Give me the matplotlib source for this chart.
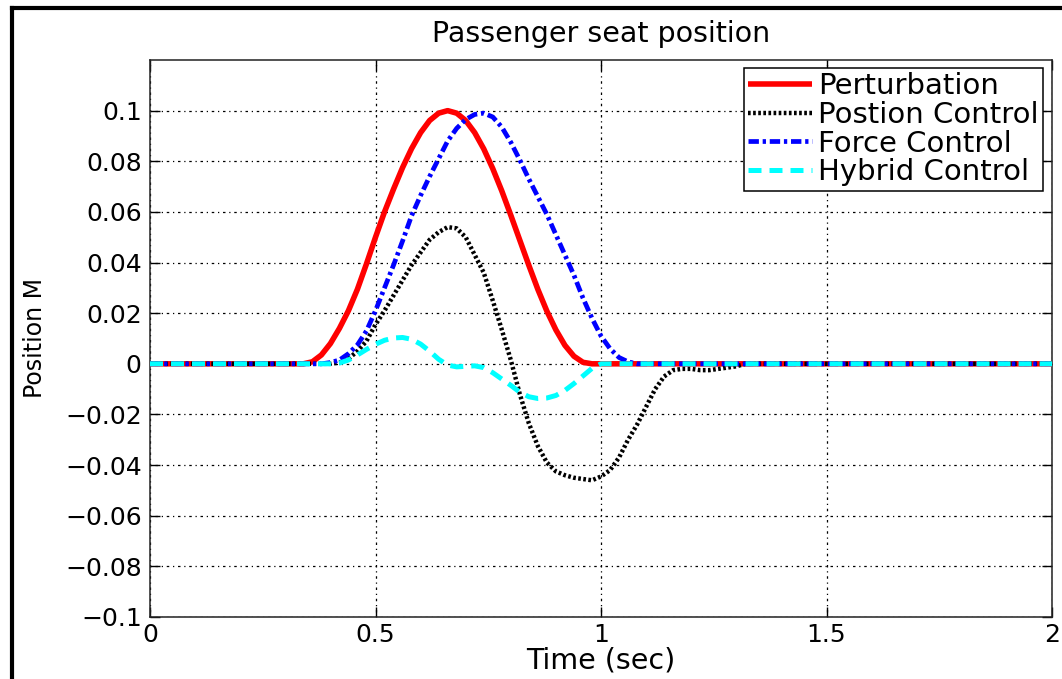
import numpy as np
import matplotlib
matplotlib.use("Agg")
import matplotlib.pyplot as plt
from matplotlib.lines import Line2D

plt.rcParams['font.family'] = ['DejaVu Sans']

# ---------------- data ----------------
time_s = [0.0, 0.30, 0.32, 0.34, 0.36, 0.38, 0.40, 0.42, 0.44, 0.46, 0.48,
          0.50, 0.52, 0.54, 0.56, 0.58, 0.60, 0.62, 0.64, 0.66, 0.68,
          0.70, 0.72, 0.74, 0.76, 0.78, 0.80, 0.82, 0.84, 0.86, 0.88,
          0.90, 0.92, 0.94, 0.96, 0.98, 1.00, 1.02, 1.04, 1.06, 1.08,
          1.10, 1.12, 1.14, 1.16, 1.18, 1.20, 1.22, 1.24, 1.26, 1.28,
          1.30, 1.32, 1.34, 1.36, 1.38, 1.40, 2.0]

perturbation = [0.0, 0.0, 0.0, 0.0, 0.0008, 0.0035, 0.0080, 0.0140, 0.0210, 0.0295, 0.0395,
                0.0500, 0.0600, 0.0690, 0.0775, 0.0850, 0.0913, 0.0961, 0.0990, 0.1000, 0.0990,
                0.0961, 0.0913, 0.0849, 0.0771, 0.0683, 0.0587, 0.0488, 0.0389, 0.0294, 0.0208,
                0.0134, 0.0073, 0.0030, 0.0006, 0.0, 0.0, 0.0, 0.0, 0.0, 0.0,
                0.0, 0.0, 0.0, 0.0, 0.0, 0.0, 0.0, 0.0, 0.0, 0.0,
                0.0, 0.0, 0.0, 0.0, 0.0, 0.0, 0.0]

position_control = [0.0, 0.0, 0.0, 0.0, 0.0, 0.0, 0.0, 0.0005, 0.002, 0.005, 0.009,
                    0.0155, 0.021, 0.027, 0.033, 0.039, 0.044, 0.049, 0.052, 0.054, 0.0535,
                    0.050, 0.043, 0.036, 0.025, 0.0135, 0.0015, -0.012, -0.0235, -0.0325, -0.039,
                    -0.0425, -0.044, -0.045, -0.0455, -0.046, -0.0445, -0.042, -0.037, -0.030, -0.024,
                    -0.017, -0.010, -0.005, -0.0025, -0.002, -0.002, -0.0025, -0.0025, -0.002, -0.0015,
                    -0.001, 0.0, 0.0, 0.0, 0.0, 0.0, 0.0]

force_control = [0.0, 0.0, 0.0, 0.0, 0.0, 0.0, 0.0005, 0.0015, 0.004, 0.0075, 0.013,
                 0.021, 0.030, 0.039, 0.0485, 0.0585, 0.0665, 0.074, 0.081, 0.088, 0.093,
                 0.0965, 0.0985, 0.099, 0.0975, 0.0935, 0.0875, 0.0805, 0.073, 0.066, 0.059,
                 0.051, 0.043, 0.035, 0.026, 0.018, 0.011, 0.006, 0.0025, 0.0008, 0.0,
                 0.0, 0.0, 0.0, 0.0, 0.0, 0.0, 0.0, 0.0, 0.0, 0.0,
                 0.0, 0.0, 0.0, 0.0, 0.0, 0.0, 0.0]

hybrid_control = [0.0, 0.0, 0.0, 0.0, 0.0, 0.0, 0.0, 0.0003, 0.0015, 0.0035, 0.0057,
                  0.0077, 0.0093, 0.0102, 0.0104, 0.0097, 0.0078, 0.0050, 0.0018, -0.0005, -0.0012,
                  -0.0010, -0.0008, -0.0015, -0.0035, -0.0060, -0.0085, -0.0112, -0.0130, -0.0137, -0.0135,
                  -0.0125, -0.0105, -0.0078, -0.0048, -0.0018, 0.0, 0.0, 0.0, 0.0, 0.0,
                  0.0, 0.0, 0.0, 0.0, 0.0, 0.0, 0.0, 0.0, 0.0, 0.0,
                  0.0, 0.0, 0.0, 0.0, 0.0, 0.0, 0.0]

series_labels = ["Perturbation", "Postion Control", "Force Control", "Hybrid Control"]
x_ticks = [0, 0.5, 1, 1.5, 2]
x_tick_labels = ["0", "0.5", "1", "1.5", "2"]
y_ticks = [-0.1, -0.08, -0.06, -0.04, -0.02, 0, 0.02, 0.04, 0.06, 0.08, 0.1]
y_tick_labels = ["\u22120.1", "\u22120.08", "\u22120.06", "\u22120.04", "\u22120.02", "0",
                 "0.02", "0.04", "0.06", "0.08", "0.1"]

# ---------------- figure ----------------
W, H = 1062, 679
fig = plt.figure(figsize=(W / 100, H / 100), dpi=100)
ax = fig.add_axes([150 / W, 1 - 617 / H, (1052 - 150) / W, (617 - 60) / H])

ax.plot(time_s, perturbation, color="#ff0000", lw=4.0, ls="-",
        solid_capstyle="butt", label=series_labels[0], zorder=3)
ax.plot(time_s, position_control, color="black", lw=3.2, ls=(0, (0.6, 0.55)),
        label=series_labels[1], zorder=4)
ax.plot(time_s, force_control, color="#0000ff", lw=3.4, ls=(0, (2.2, 0.8, 0.7, 0.8)),
        label=series_labels[2], zorder=5)
ax.plot(time_s, hybrid_control, color="#00ffff", lw=3.6, ls=(0, (2.6, 1.6)),
        label=series_labels[3], zorder=6)

ax.set_xlim(0, 2)
ax.set_ylim(-0.1, 0.12)
ax.set_xticks(x_ticks)
ax.set_xticklabels(x_tick_labels)
ax.set_yticks(y_ticks)
ax.set_yticklabels(y_tick_labels)

ax.tick_params(direction="in", length=7, width=1, top=True, right=True,
               labelsize=18, colors="black")
ax.tick_params(axis="y", pad=6)
ax.tick_params(axis="x", pad=4)
for s in ax.spines.values():
    s.set_linewidth(1.1)
    s.set_color("#222222")

ax.grid(True, color="black", linestyle=(0, (1, 3, 2, 3)), linewidth=0.9)
ax.set_axisbelow(True)

ax.set_title("Passenger seat position", fontsize=20.5, pad=13)
ax.set_xlabel("Time (sec)", fontsize=20.5, labelpad=0)
ax.set_ylabel("Position M", fontsize=17, labelpad=13)

leg = ax.legend(loc="upper right", bbox_to_anchor=(0.990, 0.9856), borderaxespad=0,
                fontsize=21, frameon=True, fancybox=False, framealpha=1,
                edgecolor="black", handlelength=2.2, handletextpad=0.2,
                labelspacing=0.02, borderpad=0.15)
leg.get_frame().set_linewidth(1.1)

# outer figure border (cropped frame)
bx = 11.5 / W
by = 1 - 7.5 / H
fig.add_artist(Line2D([bx, bx], [0, by], color="black", lw=3, transform=fig.transFigure))
fig.add_artist(Line2D([bx, 1], [by, by], color="black", lw=3, transform=fig.transFigure))

fig.savefig("out.png", dpi=100)
